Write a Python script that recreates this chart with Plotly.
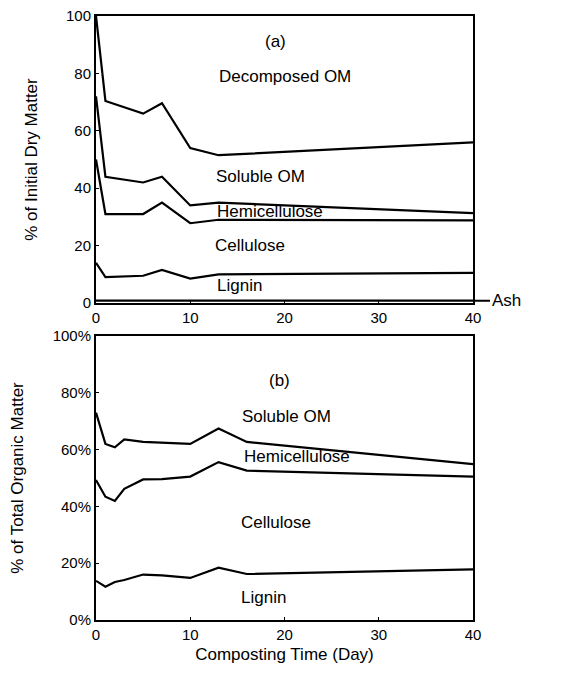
import numpy as np
import plotly.graph_objects as go
from plotly.subplots import make_subplots

# ---- Panel (a): % of initial dry matter (component amounts) ----
days_a = [0, 1, 5, 7, 10, 13, 40]
ash_a = [0.8, 0.8, 0.8, 0.8, 0.8, 0.8, 0.8]
lignin_a = [13.2, 8.2, 8.7, 10.7, 7.7, 9.2, 9.7]
cellulose_a = [36.0, 22.0, 21.5, 23.5, 19.3, 19.0, 18.3]
hemicellulose_a = [22.0, 13.0, 11.0, 9.0, 6.2, 6.0, 2.5]
soluble_a = [28.0, 26.4, 24.0, 25.6, 20.0, 16.5, 24.7]

# ---- Panel (b): % of total organic matter ----
days_b = [0, 1, 2, 3, 5, 7, 10, 13, 16, 40]
lignin_b = [13.8, 11.7, 13.4, 14.1, 16.0, 15.7, 14.8, 18.4, 16.2, 17.8]
cellulose_b = [35.5, 31.7, 28.5, 32.1, 33.5, 33.9, 35.7, 37.2, 36.4, 32.7]
hemicellulose_b = [23.7, 18.6, 18.9, 17.4, 13.2, 12.9, 11.5, 11.8, 10.1, 4.4]

x_ticks = [0, 10, 20, 30, 40]
y_ticks = [0, 20, 40, 60, 80, 100]
y_ticktext_a = ["0", "20", "40", "60", "80", "100"]
y_ticktext_b = ["0%", "20%", "40%", "60%", "80%", "100%"]

FONT = "Arial, Liberation Sans, Helvetica, sans-serif"
LINE = dict(color="black", width=2.2)

fig = make_subplots(rows=2, cols=1, vertical_spacing=0.0)

# cumulative boundaries, panel (a)
comp_a = [ash_a, lignin_a, cellulose_a, hemicellulose_a, soluble_a]
cum_a = np.cumsum(np.array(comp_a), axis=0)
for row in cum_a:
    fig.add_trace(go.Scatter(x=days_a, y=row, mode="lines", line=LINE,
                             showlegend=False, hoverinfo="skip"), row=1, col=1)

comp_b = [lignin_b, cellulose_b, hemicellulose_b]
cum_b = np.cumsum(np.array(comp_b), axis=0)
for row in cum_b:
    fig.add_trace(go.Scatter(x=days_b, y=row, mode="lines", line=LINE,
                             showlegend=False, hoverinfo="skip"), row=2, col=1)

axis_common = dict(showline=True, linecolor="black", linewidth=2, mirror=True,
                   showgrid=False, zeroline=False, ticks="inside", ticklen=3,
                   tickcolor="black", automargin=False, ticklabeloverflow="allow",
                   tickfont=dict(family=FONT, size=15, color="black"))

fig.update_xaxes(range=[0, 40], tickvals=x_ticks, **axis_common)
fig.update_yaxes(range=[0, 100], tickvals=y_ticks, **axis_common)

# page body adds an 8px offset, so the figure is sized 8px smaller
fig.update_layout(
    width=555, height=666,
    margin=dict(l=88, r=90, t=8, b=54, autoexpand=False),
    plot_bgcolor="white", paper_bgcolor="white",
    font=dict(family=FONT, color="black"),
    xaxis=dict(domain=[0, 1]),
    yaxis=dict(domain=[0.5248, 1.0], ticktext=y_ticktext_a,
               title=dict(text="% of Initial Dry Matter", font=dict(size=17), standoff=24)),
    xaxis2=dict(domain=[0, 1],
                title=dict(text="Composting Time (Day)", font=dict(size=17), standoff=6)),
    yaxis2=dict(domain=[0, 0.4702], ticktext=y_ticktext_b,
                title=dict(text="% of Total Organic Matter", font=dict(size=17), standoff=27)),
)

labels_a = [("(a)", 19, 91), ("Decomposed OM", 20, 79), ("Soluble OM", 17.5, 44),
            ("Hemicellulose", 18.5, 32), ("Cellulose", 16.3, 20), ("Lignin", 15.2, 6)]
for t, x, y in labels_a:
    fig.add_annotation(x=x, y=y, xref="x", yref="y", text=t, showarrow=False,
                       font=dict(family=FONT, size=17, color="black"))

labels_b = [("(b)", 19.5, 84.5), ("Soluble OM", 20.2, 71.8), ("Hemicellulose", 21.3, 57.4),
            ("Cellulose", 19.1, 34.5), ("Lignin", 17.8, 8)]
for t, x, y in labels_b:
    fig.add_annotation(x=x, y=y, xref="x2", yref="y2", text=t, showarrow=False,
                       font=dict(family=FONT, size=17, color="black"))

fig.add_annotation(x=40, y=ash_a[-1], xref="x", yref="y", text="Ash",
                   showarrow=True, arrowhead=0, arrowwidth=2, arrowcolor="black",
                   ax=33, ay=0, xanchor="center",
                   font=dict(family=FONT, size=17, color="black"))

fig.write_html("out.html")
